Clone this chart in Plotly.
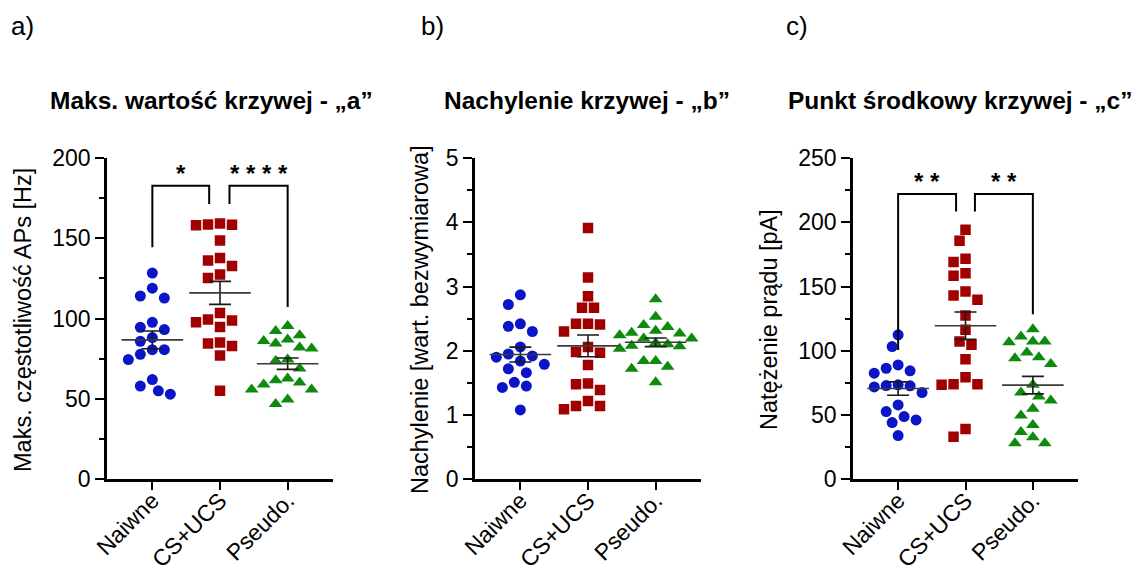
import numpy as np
import plotly.graph_objects as go

groups = ["Naiwne", "CS+UCS", "Pseudo."]

a_naiwne = [128.4, 119.0, 114.1, 112.8, 97.7, 94.6, 93.2, 88.2, 85.9, 80.7, 80.7, 77.8, 74.5, 62.1, 58.0, 55.1, 53.0]
a_csucs = [159.2, 158.6, 158.4, 158.2, 148.7, 137.7, 136.2, 132.7, 127.5, 125.3, 103.5, 99.4, 98.8, 97.7, 94.8, 85.1, 84.5, 83.0, 77.0, 55.1]
a_pseudo = [95.4, 92.3, 89.6, 87.0, 86.1, 84.5, 82.0, 81.4, 74.5, 73.7, 68.9, 62.7, 61.7, 60.2, 59.0, 55.9, 55.9, 49.7, 46.8]

b_naiwne = [2.87, 2.72, 2.42, 2.38, 2.30, 2.06, 1.95, 1.92, 1.90, 1.84, 1.79, 1.72, 1.66, 1.51, 1.45, 1.43, 1.08]
b_csucs = [3.91, 3.14, 2.85, 2.67, 2.67, 2.42, 2.42, 2.41, 2.30, 2.06, 1.98, 1.97, 1.78, 1.49, 1.48, 1.39, 1.22, 1.14, 1.14, 1.09]
b_pseudo = [2.80, 2.53, 2.40, 2.37, 2.31, 2.28, 2.27, 2.24, 2.19, 2.19, 2.12, 2.10, 2.08, 2.07, 2.03, 1.84, 1.84, 1.75, 1.72, 1.51]

c_naiwne = [112.4, 103.3, 89.0, 86.4, 84.4, 82.6, 73.5, 72.9, 72.7, 71.9, 67.5, 57.9, 52.7, 48.8, 46.2, 44.1, 34.0]
c_csucs = [194.2, 185.6, 171.6, 169.0, 160.4, 158.4, 146.2, 143.0, 139.7, 127.5, 116.3, 107.2, 104.6, 93.5, 79.4, 74.0, 74.0, 73.5, 39.2, 33.2]
c_pseudo = [116.8, 111.1, 107.2, 107.2, 106.7, 98.6, 95.0, 94.2, 89.8, 73.5, 67.5, 64.4, 61.3, 54.8, 49.6, 42.3, 36.9, 32.7, 28.0, 28.0]

titles = ["Maks. wartość krzywej - „a”", "Nachylenie krzywej - „b”", "Punkt środkowy krzywej - „c”"]
ytitles = ["Maks. częstotliwość APs [Hz]", "Nachylenie [wart. bezwymiarowa]", "Natężenie prądu [pA]"]
panel_letters = ["a)", "b)", "c)"]
ymax = [200, 5, 250]
ydtick = [50, 1, 50]

# significance brackets: (x0, x1, top, left-leg bottom, right-leg bottom, label)
brackets_a = [(0, 0.84, 182.8, 144.5, 171.4, "*"), (1.14, 2, 182.8, 171.4, 107.2, "* * * *")]
brackets_c = [(0, 0.86, 222.0, 100.7, 208.4, "* *"), (1.14, 2, 222.0, 208.4, 128.5, "* *")]

FONT = "Arial, 'Liberation Sans', sans-serif"
W, H = 1146, 577
colors = ["#0a14c8", "#a00000", "#0e8a0e"]
symbols = ["circle", "square", "triangle-up"]
msizes = [11, 10.5, 12]

dom_x = [(107, 333), (475, 701), (853, 1078)]
dom_y = (158, 479.3)
xr = [-0.67, 2.67]
px_per_cat = (dom_x[0][1] - dom_x[0][0]) / (xr[1] - xr[0])


def swarm(vals, ppu, step=6.0, d=12.0):
    vals = np.asarray(vals, float)
    order = np.argsort(-vals)
    placed = []
    offs = np.zeros(len(vals))
    cands = [0] + [k * s for k in range(1, 30) for s in (-1, 1)]
    for i in order:
        y = vals[i] * ppu
        for c in cands:
            x = c * step
            if all((x - px) ** 2 + (y - py) ** 2 >= d * d for px, py in placed):
                break
        placed.append((x, y))
        offs[i] = x
    return offs / px_per_cat


fig = go.Figure()
data = [[a_naiwne, a_csucs, a_pseudo], [b_naiwne, b_csucs, b_pseudo], [c_naiwne, c_csucs, c_pseudo]]

for p in range(3):
    xa = "x" if p == 0 else f"x{p+1}"
    ya = "y" if p == 0 else f"y{p+1}"
    ppu = (dom_y[1] - dom_y[0]) / ymax[p]
    for g in range(3):
        vals = data[p][g]
        xo = swarm(vals, ppu) + g
        fig.add_trace(go.Scatter(
            x=xo, y=vals, mode="markers", xaxis=xa, yaxis=ya, showlegend=False,
            marker=dict(symbol=symbols[g], size=msizes[g], color=colors[g], line=dict(width=0)),
        ))
    for g in range(3):
        vals = np.asarray(data[p][g], float)
        m = vals.mean()
        sem = vals.std(ddof=1) / np.sqrt(len(vals))
        fig.add_trace(go.Scatter(
            x=[g], y=[m], mode="markers", xaxis=xa, yaxis=ya, showlegend=False,
            marker=dict(symbol="line-ew", size=44, color="#3a3a3a", line=dict(width=1.6, color="#3a3a3a")),
            error_y=dict(type="data", array=[sem], width=11, thickness=1.6, color="#1a1a1a"),
        ))

layout = dict(
    template="none",
    width=W, height=H, margin=dict(l=0, r=0, t=0, b=0, autoexpand=False),
    plot_bgcolor="white", paper_bgcolor="white",
    font=dict(family=FONT, color="black", size=20),
    showlegend=False,
)

for p in range(3):
    sx = "" if p == 0 else str(p + 1)
    layout["xaxis" + sx] = dict(
        domain=[dom_x[p][0] / W, dom_x[p][1] / W], range=xr, anchor="y" + sx,
        tickvals=[0, 1, 2], ticktext=groups, tickangle=-45, automargin=False,
        ticks="outside", ticklen=8, tickwidth=2, tickcolor="black", ticklabelstandoff=-12,
        showline=True, linewidth=2.5, linecolor="black", showgrid=False, zeroline=False,
        tickfont=dict(size=23, family=FONT, color="black"), fixedrange=True,
    )
    layout["yaxis" + sx] = dict(
        domain=[1 - dom_y[1] / H, 1 - dom_y[0] / H], range=[0, ymax[p]], anchor="x" + sx,
        dtick=ydtick[p], tick0=0, ticks="outside", ticklen=9, tickwidth=2, tickcolor="black",
        minor=dict(dtick=ydtick[p] / 2, ticks="outside", ticklen=5, tickwidth=2, tickcolor="black", showgrid=False),
        showline=True, linewidth=2.5, linecolor="black", showgrid=False, zeroline=False, automargin=False,
        tickfont=dict(size=23, family=FONT, color="black"), fixedrange=True,
    )

fig.update_layout(**layout)

ann = []
title_cx = [211, 587, 960]
ytitle_cx = [23, 420, 769]
letter_x = [9, 419, 784]
for p in range(3):
    ann.append(dict(text=titles[p], x=title_cx[p] / W, y=1 - 101 / H, xref="paper", yref="paper",
                    xanchor="center", yanchor="middle", showarrow=False,
                    font=dict(size=24.5, family=FONT, color="black", weight="bold")))
    ann.append(dict(text=ytitles[p], x=ytitle_cx[p] / W, y=1 - 320 / H, xref="paper", yref="paper",
                    xanchor="center", yanchor="middle", textangle=-90, showarrow=False,
                    font=dict(size=23.5, family=FONT, color="black")))
    ann.append(dict(text=panel_letters[p], x=letter_x[p] / W, y=1 - 26 / H, xref="paper", yref="paper",
                    xanchor="left", yanchor="middle", showarrow=False,
                    font=dict(size=26, family=FONT, color="black")))

shapes = []
for p, brs in ((0, brackets_a), (2, brackets_c)):
    sx = "" if p == 0 else str(p + 1)
    for x0, x1, top, b0, b1, lab in brs:
        shapes.append(dict(type="path", xref="x" + sx, yref="y" + sx,
                           path=f"M {x0},{b0} L {x0},{top} L {x1},{top} L {x1},{b1}",
                           line=dict(color="black", width=2)))
        ann.append(dict(text=lab, x=(x0 + x1) / 2, y=top, xref="x" + sx, yref="y" + sx,
                        xanchor="center", yanchor="bottom", showarrow=False, yshift=-3,
                        font=dict(size=24, family=FONT, color="black", weight="bold")))

fig.update_layout(annotations=ann, shapes=shapes)
fig.write_html("out.html", post_script="document.body.style.margin='0';document.body.style.overflow='hidden';")
